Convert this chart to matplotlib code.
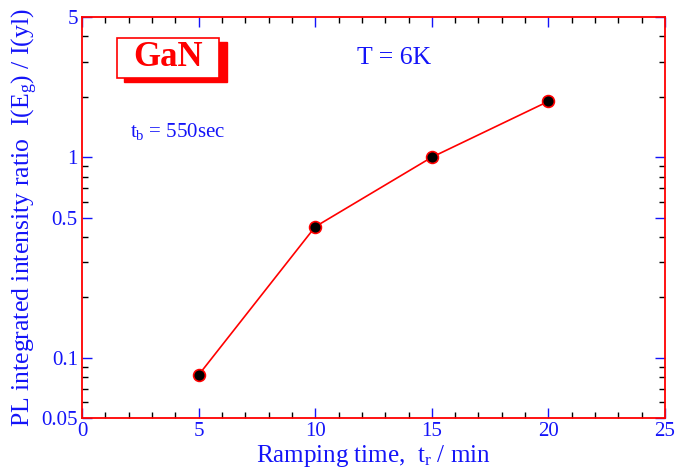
import numpy as np
import matplotlib
matplotlib.use('Agg')
import matplotlib.pyplot as plt
from matplotlib.patches import Rectangle
from matplotlib.ticker import FixedLocator, FixedFormatter, MultipleLocator, NullFormatter

plt.rcParams['font.family'] = ['Liberation Serif', 'DejaVu Serif']
plt.rcParams['mathtext.fontset'] = 'custom'
plt.rcParams['mathtext.rm'] = 'Liberation Serif'
plt.rcParams['mathtext.it'] = 'Liberation Serif:italic'

# data
ramp_time = [5, 10, 15, 20]
ratio = [0.082, 0.45, 1.0, 1.9]

y_ticks = [0.05, 0.1, 0.5, 1, 5]
y_tick_labels = ['0.05', '0.1', '0.5', '1', '5']

blue = '#1414f8'
red = '#ff0000'

fig = plt.figure(figsize=(6.8, 4.74), dpi=100)
ax = fig.add_axes([0.1206, 0.118, 0.8574, 0.846])

ax.plot(ramp_time, ratio, '-', color=red, lw=1.2, marker='o', ms=8.5,
        mfc='black', mec=red, mew=1.2, zorder=3)

ax.set_yscale('log')
ax.set_xlim(0, 25)
ax.set_ylim(0.05, 5)

ax.xaxis.set_major_locator(MultipleLocator(5))
ax.xaxis.set_minor_locator(MultipleLocator(1))
ax.yaxis.set_major_locator(FixedLocator(y_ticks))
ax.yaxis.set_major_formatter(FixedFormatter(y_tick_labels))
minors = [m * d for d in (0.01, 0.1, 1) for m in range(2, 10)]
minors = [v for v in minors if 0.05 < v < 5 and v not in (0.1, 0.5, 1)]
ax.yaxis.set_minor_locator(FixedLocator(minors))
ax.yaxis.set_minor_formatter(NullFormatter())

ax.tick_params(which='both', direction='in', top=True, right=True)
ax.tick_params(which='major', length=7, width=1, color=blue,
               labelcolor=blue, labelsize=15, pad=3)
ax.tick_params(which='minor', length=4, width=1, color='black')

for s in ax.spines.values():
    s.set_color(red)
    s.set_linewidth(1.3)

ax.set_xlabel(r'Ramping time,  $\mathrm{t_r}$ / min', color=blue, fontsize=18, labelpad=1)
ax.set_ylabel(r'PL integrated intensity ratio  I(E$_\mathrm{g}$) / I(yl)', color=blue,
              fontsize=18.5, labelpad=1)

# GaN label with shadowed box
ax.add_patch(Rectangle((0.0725, 0.837), 0.1755, 0.1, transform=ax.transAxes,
                       facecolor=red, edgecolor=red, clip_on=False, zorder=4))
ax.add_patch(Rectangle((0.0595, 0.849), 0.1755, 0.1, transform=ax.transAxes,
                       facecolor='white', edgecolor=red, lw=1.2, clip_on=False, zorder=5))
ax.text(0.147, 0.898, 'GaN', transform=ax.transAxes, color=red, fontsize=25,
        fontweight='bold', ha='center', va='center', zorder=6)

ax.text(0.535, 0.898, 'T = 6K', transform=ax.transAxes, color=blue, fontsize=18.5,
        ha='center', va='center')
ax.text(0.082, 0.715, r'$\mathrm{t_b}$ = 550sec', transform=ax.transAxes, color=blue,
        fontsize=15, ha='left', va='center')

fig.savefig('out.png', dpi=100)
